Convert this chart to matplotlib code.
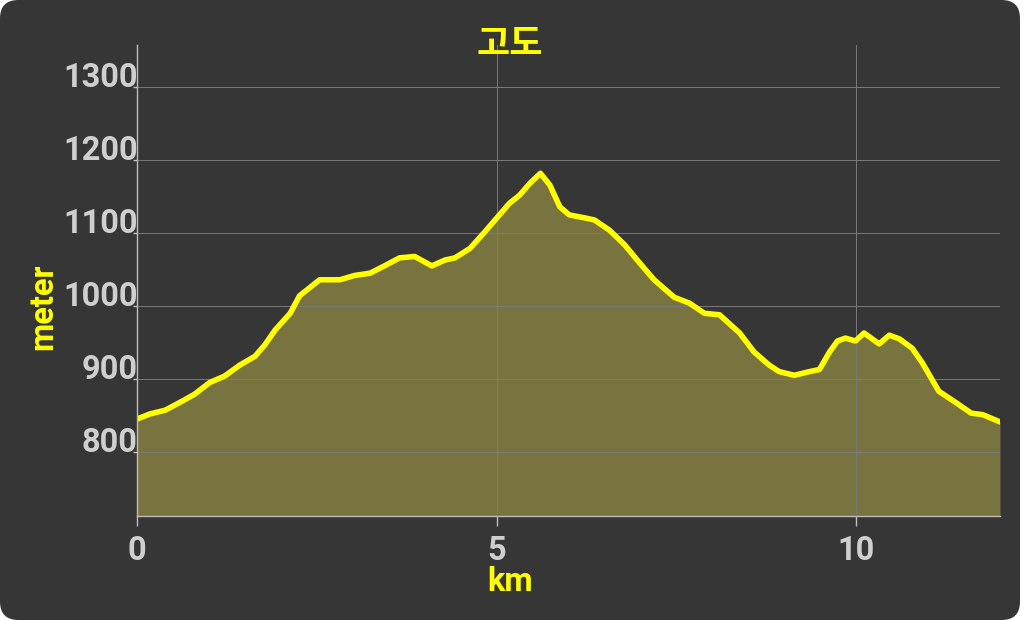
import matplotlib
matplotlib.use('Agg')
import matplotlib.pyplot as plt
from matplotlib.patches import FancyBboxPatch

plt.rcParams['font.family'] = ['Roboto', 'Noto Sans CJK KR', 'DejaVu Sans']

BG = '#363636'
YEL = '#FFFF00'
FILL = '#79733F'
TICK = '#CFCFCF'
GRID = '#7A7A7A'

# elevation profile (km, meter)
km = [0.0, 0.18, 0.39, 0.6, 0.8, 1.01, 1.22, 1.43, 1.64, 1.78, 1.92, 2.13, 2.26,
      2.4, 2.54, 2.82, 3.03, 3.24, 3.44, 3.65, 3.86, 4.1, 4.28, 4.42, 4.63,
      4.83, 5.04, 5.18, 5.32, 5.46, 5.61, 5.74, 5.88, 6.01, 6.22, 6.36, 6.57,
      6.78, 6.99, 7.19, 7.47, 7.68, 7.89, 8.1, 8.38, 8.58, 8.79, 8.93, 9.14,
      9.35, 9.49, 9.63, 9.74, 9.85, 9.99, 10.11, 10.32, 10.46, 10.6, 10.78,
      10.92, 11.15, 11.38, 11.6, 11.76, 12.0]
elev = [845, 852, 857, 868, 879, 895, 904, 919, 931, 947, 967, 990, 1014,
        1025, 1036, 1036, 1042, 1045, 1055, 1066, 1068, 1055, 1063, 1066, 1079,
        1101, 1125, 1141, 1152, 1168, 1182, 1166, 1136, 1125, 1121, 1118, 1104,
        1084, 1059, 1036, 1012, 1004, 990, 988, 963, 937, 919, 910, 905,
        910, 913, 937, 952, 956, 952, 963, 948, 960, 955, 942,
        922, 883, 868, 853, 851, 841]

xticks = [0, 5, 10]
yticks = [800, 900, 1000, 1100, 1200, 1300]

fig = plt.figure(figsize=(10.24, 6.2), dpi=100)
fig.patch.set_facecolor('white')
fig.patches.append(FancyBboxPatch((0, 0), 1020 / 1024, 1,
                                  boxstyle='round,pad=0,rounding_size=0.018',
                                  transform=fig.transFigure, facecolor=BG,
                                  edgecolor='none', zorder=-5, mutation_aspect=1024 / 620))

ax = fig.add_axes([137 / 1024, 1 - 516 / 620, 863 / 1024, 471 / 620])
ax.set_zorder(2)
ax.set_facecolor(BG)
ax.fill_between(km, elev, 600, color=FILL, lw=0, zorder=2)
ax.plot(km, elev, color=YEL, lw=4.0, solid_joinstyle='round',
        solid_capstyle='round', zorder=3)

ax.set_xlim(0, 12)
ax.set_ylim(712, 1358)
ax.set_xticks(xticks)
ax.set_yticks(yticks)
ax.grid(True, color=GRID, lw=0.7, zorder=1)
ax.set_axisbelow(False)

for s in ['top', 'right']:
    ax.spines[s].set_visible(False)
for s in ['left', 'bottom']:
    ax.spines[s].set_color('#BDBDBD')
    ax.spines[s].set_linewidth(1.0)
    ax.spines[s].set_zorder(4)

ax.tick_params(axis='x', colors='#BDBDBD', length=7, width=1, pad=7,
               labelsize=23.5, labelcolor=TICK)
ax.tick_params(axis='y', colors='#BDBDBD', length=3, width=1, pad=-3.5,
               labelsize=23.5, labelcolor=TICK)
for lab in ax.get_xticklabels() + ax.get_yticklabels():
    lab.set_fontweight('bold')
for lab in ax.get_yticklabels():
    lab.set_verticalalignment('baseline')

fig.text(510 / 1024, 1 - 45 / 620, '고도', color=YEL, fontsize=26, fontweight='bold',
         ha='center', va='center', family=['Noto Sans CJK KR', 'DejaVu Sans'])
fig.text(510 / 1024, 1 - 582 / 620, 'km', color=YEL, fontsize=23.5, fontweight='bold',
         ha='center', va='center')
fig.text(43 / 1024, 1 - 307 / 620, 'meter', color=YEL, fontsize=23.5, fontweight='bold',
         ha='center', va='center', rotation=90)

fig.savefig('out.png', dpi=100, facecolor='white')
